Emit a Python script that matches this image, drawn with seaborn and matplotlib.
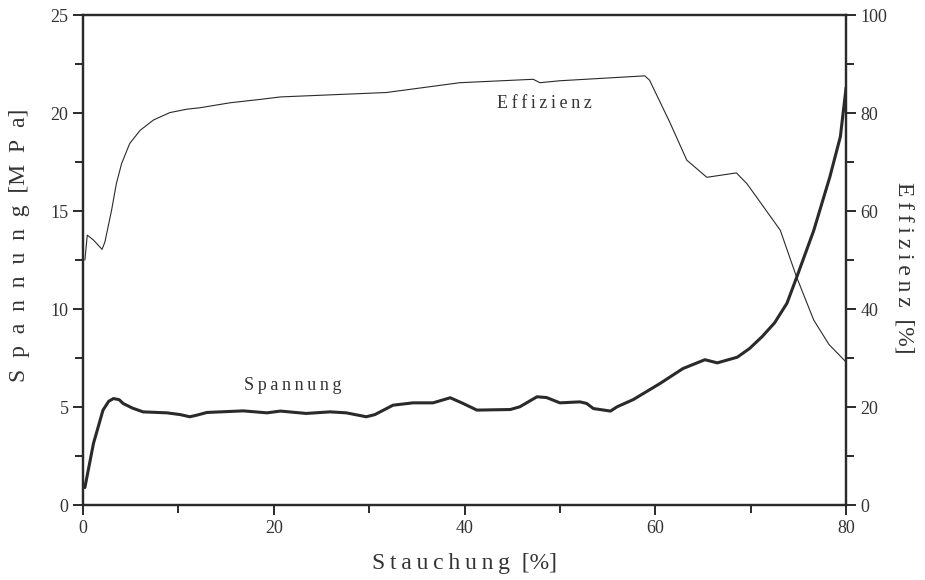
import numpy as np
import pandas as pd
import matplotlib
matplotlib.use("Agg")
import matplotlib.pyplot as plt
import seaborn as sns
from matplotlib.ticker import MultipleLocator

sns.set_style("ticks")
plt.rcParams["font.family"] = ["Liberation Serif", "DejaVu Serif"]

# Spannung (stress, MPa) vs Stauchung (strain, %)
span_x = [0.2, 1.1, 2.1, 2.7, 3.2, 3.8, 4.2, 5.2, 6.3, 8.8, 10.2, 11.2, 12.0, 13.0,
          16.8, 19.3, 20.7, 23.4, 25.9, 27.6, 29.7, 30.6, 32.5, 34.6, 36.7, 38.5,
          39.8, 41.3, 44.8, 45.8, 47.6, 48.6, 50.0, 52.1, 52.8, 53.5, 55.3, 56.0,
          57.7, 60.5, 62.9, 65.2, 66.5, 68.6, 69.9, 71.2, 72.5, 73.8, 74.8, 76.6,
          78.3, 79.4, 80.0]
span_y = [0.9, 3.15, 4.85, 5.3, 5.44, 5.38, 5.19, 4.95, 4.76, 4.71, 4.62, 4.51, 4.6,
          4.73, 4.81, 4.71, 4.80, 4.68, 4.76, 4.71, 4.51, 4.62, 5.10, 5.22, 5.22,
          5.48, 5.2, 4.85, 4.88, 5.02, 5.53, 5.49, 5.22, 5.27, 5.19, 4.93, 4.80,
          5.02, 5.39, 6.21, 6.97, 7.42, 7.26, 7.55, 8.0, 8.6, 9.3, 10.3, 11.6,
          14.0, 16.75, 18.8, 21.3]

# Effizienz (efficiency, %)
eff_x = [0.2, 0.45, 1.1, 2.0, 2.3, 3.0, 3.5, 4.05, 4.9, 6.0, 7.4, 9.1, 10.9, 12.3,
         15.4, 18.6, 20.7, 31.8, 39.5, 47.2, 47.9, 50.0, 58.9, 59.4, 61.5, 63.3,
         65.4, 68.5, 69.6, 70.6, 73.1, 74.8, 76.6, 78.2, 80.0]
eff_y = [50.0, 55.1, 54.1, 52.2, 53.7, 60.2, 65.6, 69.7, 73.8, 76.5, 78.6, 80.1, 80.8,
         81.1, 82.1, 82.8, 83.3, 84.2, 86.2, 86.9, 86.2, 86.6, 87.6, 86.7, 78.2,
         70.4, 66.9, 67.8, 65.6, 62.9, 56.1, 46.6, 37.8, 32.8, 29.2]

span_df = pd.DataFrame({"Stauchung": span_x, "Spannung": span_y})
eff_df = pd.DataFrame({"Stauchung": eff_x, "Effizienz": eff_y})

line_col = "#2a2a2a"
text_col = "#333333"
serif = ["Liberation Serif", "DejaVu Serif"]

fig = plt.figure(figsize=(9.25, 5.8), dpi=100)
ax = fig.add_axes([0.0897, 0.129, 0.825, 0.845])
ax2 = ax.twinx()

sns.lineplot(data=span_df, x="Stauchung", y="Spannung", ax=ax,
             color=line_col, linewidth=2.2)
sns.lineplot(data=eff_df, x="Stauchung", y="Effizienz", ax=ax2,
             color=line_col, linewidth=0.8)

ax.set_xlim(0, 80)
ax.set_ylim(0, 25)
ax2.set_ylim(0, 100)

ax.xaxis.set_major_locator(MultipleLocator(20))
ax.xaxis.set_minor_locator(MultipleLocator(10))
ax.yaxis.set_major_locator(MultipleLocator(5))
ax.yaxis.set_minor_locator(MultipleLocator(2.5))
ax2.yaxis.set_major_locator(MultipleLocator(20))
ax2.yaxis.set_minor_locator(MultipleLocator(10))

for a in (ax, ax2):
    for s in a.spines.values():
        s.set_linewidth(1.6)
        s.set_color(line_col)
    a.tick_params(which="major", length=7, width=1.4, color=line_col,
                  labelsize=13, labelcolor=text_col, direction="out")
    a.tick_params(which="minor", length=6, width=1.4, color=line_col,
                  direction="out")

thin = "\u2009"
wide = "\u2002"
ax.set_xlabel(thin.join("Stauchung") + "  [%]", fontsize=17, color=text_col,
              labelpad=12, family=serif)
ax.set_ylabel(wide.join("Spannung") + "  [" + wide.join("MPa") + "]", fontsize=17,
              color=text_col, family=serif)
ax.yaxis.set_label_coords(-0.069, 0.53)
ax2.set_ylabel(thin.join("Effizienz") + "  [%]", fontsize=17, color=text_col,
               rotation=-90, family=serif)
ax2.yaxis.set_label_coords(1.09, 0.485)

ax.text(22.0, 6.1, thin.join("Spannung"), fontsize=13, color=text_col,
        ha="center", va="center", family=serif)
ax2.text(48.4, 82.0, thin.join("Effizienz"), fontsize=13, color=text_col,
         ha="center", va="center", family=serif)

fig.savefig("out.png", dpi=100, facecolor="white")
